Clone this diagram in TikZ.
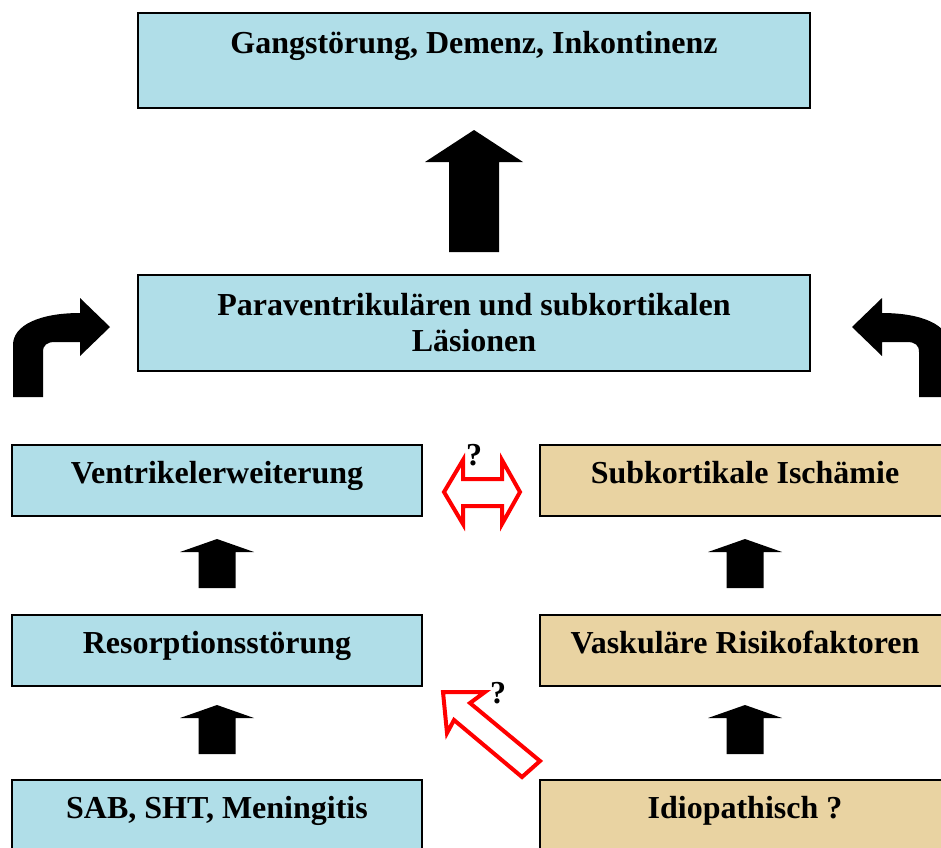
\documentclass[tikz,border=0pt]{standalone}
\usepackage{fontspec}
\setmainfont{Liberation Serif}
\usepackage{tikz}

\definecolor{wasserblau}{RGB}{176,222,232}
\definecolor{papyrus}{RGB}{233,211,162}
\definecolor{signalrot}{RGB}{255,0,0}

\tikzset{
  kasten/.style={draw=black, line width=2pt, inner sep=0pt, anchor=north,
    font=\fontsize{32}{36}\selectfont\bfseries, align=center},
  blau/.style={kasten, fill=wasserblau, minimum width=410},
  sand/.style={kasten, fill=papyrus, minimum width=410},
  zeile/.style={text height=38, text depth=33},
  frage/.style={font=\fontsize{32}{36}\selectfont\bfseries, inner sep=0pt},
  rotpfeil/.style={draw=signalrot, line width=4pt, fill=white, line join=miter}
}

\newcommand*\bogenpfeil{%
  (13,397) -- (13,345) .. controls (13,325) and (40,313) .. (80,313)
  -- (80,298) -- (110,327) -- (80,356) -- (80,342) -- (55,342)
  .. controls (47,342) and (43,345) .. (43,352) -- (43,397) -- cycle}

\begin{document}
\begin{tikzpicture}[x=1pt,y=-1pt]
		\useasboundingbox (0,0) rectangle (941,847);

		% Boxes
		\node[kasten, fill=wasserblau, minimum width=672, text height=40, text depth=55]
			(gang) at (474,12) {Gangstörung, Demenz, Inkontinenz};
		\node[kasten, fill=wasserblau, minimum width=672, minimum height=96, anchor=center]
			(laes) at (474,323) {Paraventrikulären und subkortikalen\\Läsionen};
		\node[blau,zeile] (ventr) at (217,444) {Ventrikelerweiterung};
		\node[blau,zeile] (resorp) at (217,614) {Resorptionsstörung};
		\node[blau,zeile] (sab) at (217,779) {SAB, SHT, Meningitis};
		\node[sand,zeile] (ischaem) at (745,444) {Subkortikale Ischämie};
		\node[sand,zeile] (vask) at (745,614) {Vaskuläre Risikofaktoren};
		\node[sand,zeile] (idio) at (745,779) {Idiopathisch ?};

		% Big arrow up
		\fill (474,130) -- (523,162) -- (499,162) -- (499,252) -- (449,252) -- (449,162) -- (425,162) -- cycle;

		% Small arrows up
		\foreach \x/\y in {217/539, 217/705, 745/539, 745/705}
			\fill (\x,\y) -- ++(37,13) -- ++(-18.5,0) -- ++(0,36) -- ++(-37,0) -- ++(0,-36) -- ++(-18.5,0) -- cycle;

		% Curved arrows
		\fill \bogenpfeil;
		\begin{scope}[xshift=962, xscale=-1]
			\fill \bogenpfeil;
		\end{scope}

		% Red arrows
		\draw[rotpfeil] (444,492) -- (463,460) -- (463,479) -- (502,479) -- (502,460) -- (520,492)
			-- (502,524) -- (502,506) -- (463,506) -- (463,524) -- cycle;
		\node[frage] (frage1) at (474,455) {?};
		\draw[rotpfeil] (443,692) -- (485,692) -- (470,703) -- (540,761) -- (522,777)
			-- (454,720) -- (447,733) -- cycle;
		\node[frage] (frage2) at (498,693) {?};
	\end{tikzpicture}
\end{document}
